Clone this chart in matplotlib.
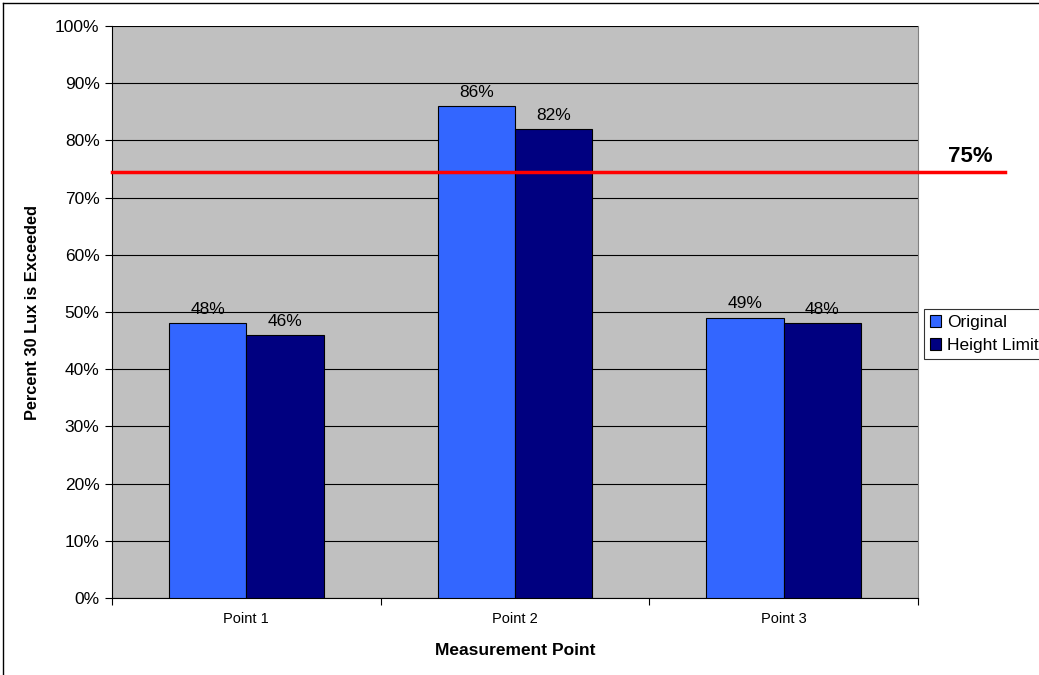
import numpy as np
import matplotlib.pyplot as plt
from matplotlib.lines import Line2D

plt.rcParams['font.family'] = ['Liberation Sans', 'DejaVu Sans']

# percent of time 30 lux is exceeded
points = ["Point 1", "Point 2", "Point 3"]
original = [48, 86, 49]
height_limit = [46, 82, 48]
target = 74.5
target_label = "75%"

fig = plt.figure(figsize=(10.39, 6.75), dpi=100)
ax = fig.add_axes([112/1039, 1-598/675, 806/1039, 572/675])

x = np.arange(len(points))
w = 0.288
b1 = ax.bar(x - w/2, original, w, color="#3366FF", edgecolor="black", linewidth=0.8, label="Original", zorder=3)
b2 = ax.bar(x + w/2, height_limit, w, color="#000080", edgecolor="black", linewidth=0.8, label="Height Limit", zorder=3)

for bars, vals in [(b1, original), (b2, height_limit)]:
    for bar, v in zip(bars, vals):
        ax.annotate(f"{v}%", (bar.get_x() + bar.get_width()/2, v), xytext=(0, 4.5),
                    textcoords="offset points", ha="center", va="bottom", fontsize=12.5, zorder=4)

ax.set_facecolor("#C0C0C0")
ax.set_xlim(-0.5, 2.5)
ax.set_ylim(0, 100)
ax.set_yticks(range(0, 101, 10))
ax.set_yticklabels([f"{t}%" for t in range(0, 101, 10)], fontsize=12.5)
ax.yaxis.grid(True, color="black", linewidth=0.8, zorder=1)
ax.set_axisbelow(True)

# category labels between boundary ticks
ax.set_xticks([-0.5, 0.5, 1.5, 2.5])
ax.set_xticklabels([])
ax.set_xticks(x, minor=True)
ax.set_xticklabels(points, minor=True, fontsize=10.5)
ax.tick_params(axis="x", which="minor", length=0, pad=10)
ax.tick_params(axis="x", which="major", length=5, direction="out")
ax.tick_params(axis="y", length=5, direction="out", pad=4)

ax.spines["left"].set_color("black")
ax.spines["bottom"].set_color("black")
ax.spines["top"].set_visible(False)
ax.spines["right"].set_color("#808080")

ax.set_xlabel("Measurement Point", fontsize=12.5, fontweight="bold", labelpad=12)
ax.set_ylabel("Percent 30 Lux is Exceeded", fontsize=11.8, fontweight="bold", labelpad=11)

# target line running past the plot area
ax.plot([0, 1.108], [target, target], color="red", linewidth=2.5,
        transform=ax.get_yaxis_transform(), clip_on=False, zorder=5)
ax.text(1.065, target + 0.9, target_label, transform=ax.get_yaxis_transform(),
        ha="center", va="bottom", fontsize=16, fontweight="bold")

leg = fig.legend(handles=[b1, b2], loc="upper left", bbox_to_anchor=(924/1039, 1-309/675),
                 fontsize=12.5, frameon=True, fancybox=False, edgecolor="black",
                 handlelength=0.65, handleheight=0.65, handletextpad=0.35,
                 borderpad=0.35, labelspacing=0.45, borderaxespad=0)
leg.get_frame().set_linewidth(0.8)

# outer chart border
fig.add_artist(Line2D([3/1039, 1], [1-3/675, 1-3/675], color="black", linewidth=1, transform=fig.transFigure))
fig.add_artist(Line2D([3/1039, 3/1039], [0, 1-3/675], color="black", linewidth=1, transform=fig.transFigure))

fig.savefig("out.png", dpi=100)
